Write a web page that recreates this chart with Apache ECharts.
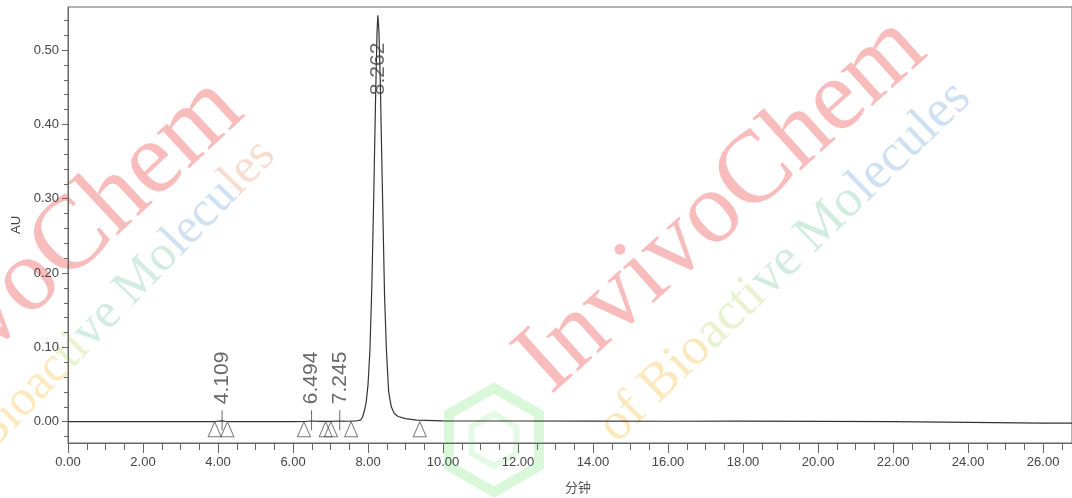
<!DOCTYPE html>
<html>
<head>
<meta charset="utf-8">
<script src="https://cdn.jsdelivr.net/npm/echarts@6/dist/echarts.min.js"></script>
<style>
html,body{margin:0;padding:0;background:#fff;}
#c{width:1072px;height:498px;}
</style>
</head>
<body>
<div id="c"></div>
<script>
// ---- data ----
var times = [0, 1, 2, 3, 3.9, 4.0, 4.109, 4.2, 4.3, 5, 6, 6.3, 6.494, 6.7, 7.0, 7.245, 7.5, 7.7,
  7.80, 7.85, 7.90, 7.95, 8.00, 8.05, 8.10, 8.15, 8.20, 8.24, 8.262, 8.29, 8.33, 8.36, 8.40, 8.44,
  8.49, 8.55, 8.62, 8.70, 8.80, 9.00, 9.30, 10, 12, 14, 16, 18, 20, 22, 24, 26, 26.77];
var au = [0.000, 0.000, 0.000, 0.000, 0.000, 0.0006, 0.0012, 0.0006, 0.000, 0.000, 0.000, 0.0002, 0.0009, 0.0004, 0.0003, 0.0009, 0.0006, 0.0012,
  0.002, 0.006, 0.014, 0.026, 0.050, 0.096, 0.180, 0.298, 0.433, 0.525, 0.547, 0.525, 0.450, 0.370, 0.270, 0.170,
  0.096, 0.040, 0.020, 0.011, 0.007, 0.004, 0.002, 0.0012, 0.0009, 0.0008, 0.0006, 0.0008, 0.0005, 0.000, -0.001, -0.002, -0.002];
var peakTimes = [4.109, 6.494, 7.245, 8.262];
var peakHeights = [0.0012, 0.0009, 0.0009, 0.547];
var peakNames = ['4.109', '6.494', '7.245', '8.262'];
var markerTimes = [3.91, 4.25, 6.29, 6.87, 7.01, 7.55, 9.38];
var xTickValues = [0, 2, 4, 6, 8, 10, 12, 14, 16, 18, 20, 22, 24, 26];
var yTickValues = [0, 0.1, 0.2, 0.3, 0.4, 0.5];
var xMin = 0, xMax = 26.77, yMin = -0.0287, yMax = 0.558;

var xMinor = [];
for (var i = 0; i <= 53; i++) { var v = i * 0.5; if (v % 2 !== 0 && v <= xMax) xMinor.push(v); }
var yMinor = [];
for (var j = -1; j <= 27; j++) { var w = Math.round(j * 2) / 100; if (Math.round(w * 100) % 10 !== 0) yMinor.push(w); }

var lineData = times.map(function (t, k) { return [t, au[k]]; });
var markerData = markerTimes.map(function (t) { return [t, 0]; });
var labelData = peakTimes.map(function (t, k) {
  var big = peakHeights[k] > 0.1;
  return {
    value: [t, big ? peakHeights[k] : 0],
    name: peakNames[k],
    symbol: big ? 'circle' : 'rect',
    symbolSize: big ? 0.1 : [1, 20],
    symbolOffset: big ? [0, 0] : [0, -1.5],
    label: big ? { position: 'bottom', distance: 80 } : { position: 'top', distance: 6 }
  };
});

var font = 'Liberation Sans, Arial, sans-serif';
var serif = 'Liberation Serif, Times New Roman, serif';
var deg = Math.PI / 180;
var gridTop = 7, gridBottom = 55, H = 498;
var plotH = H - gridTop - gridBottom;

function hexagon(cx, cy, r) {
  var pts = [];
  for (var k = 0; k < 6; k++) { var a = (60 * k + 30) * deg; pts.push([cx + r * Math.cos(a), cy + r * Math.sin(a)]); }
  return pts;
}
var wmRich = {
  y: { fill: 'rgba(245,200,95,0.42)' },
  g: { fill: 'rgba(200,225,140,0.42)' },
  t: { fill: 'rgba(150,210,180,0.42)' },
  b: { fill: 'rgba(140,180,225,0.42)' },
  o: { fill: 'rgba(235,175,140,0.42)' }
};
function richStyle(text, size) {
  var r = {};
  for (var k in wmRich) r[k] = { fill: wmRich[k].fill, font: size + 'px ' + serif };
  return { text: text, rich: r, align: 'center', verticalAlign: 'middle', font: size + 'px ' + serif };
}

var chart = echarts.init(document.getElementById('c'), null, { renderer: 'canvas' });
chart.setOption({
  animation: false,
  backgroundColor: '#fff',
  grid: { left: 68, right: 0, top: gridTop, bottom: gridBottom, containLabel: false, outerBoundsMode: 'none',
    show: true, borderColor: '#666', borderWidth: 1, backgroundColor: 'transparent' },
  graphic: [
    { type: 'text', x: 38, y: 272, rotation: 43 * deg, z: 0, silent: true,
      style: { text: 'InvivoChem', font: '104px ' + serif, fill: 'rgba(240,80,80,0.38)', align: 'center', verticalAlign: 'middle' } },
    { type: 'text', x: 722, y: 205, rotation: 42 * deg, z: 0, silent: true,
      style: { text: 'InvivoChem', font: '102px ' + serif, fill: 'rgba(240,80,80,0.38)', align: 'center', verticalAlign: 'middle' } },
    { type: 'text', x: 124, y: 296, rotation: 46 * deg, z: 0, silent: true,
      style: richStyle('{y|Bioac}{g|ti}{t|ve Mo}{b|lecu}{o|les}', 50) },
    { type: 'text', x: 785, y: 262, rotation: 44 * deg, z: 0, silent: true,
      style: richStyle('{y|of Bio}{g|acti}{t|ve Mo}{b|lecules}', 53) },
    { type: 'polygon', z: 0, silent: true, shape: { points: hexagon(494, 440, 52) },
      style: { fill: 'none', stroke: 'rgba(110,225,110,0.26)', lineWidth: 10 } },
    { type: 'polygon', z: 0, silent: true, shape: { points: hexagon(494, 440, 26) },
      style: { fill: 'none', stroke: 'rgba(110,225,110,0.18)', lineWidth: 6 } }
  ],
  xAxis: [
    {
      type: 'value', min: xMin, max: xMax, position: 'bottom',
      name: '分钟', nameLocation: 'middle', nameGap: 38,
      nameTextStyle: { fontFamily: 'Noto Sans CJK SC, sans-serif', fontSize: 13, color: '#555', padding: [0, 0, 0, 16] },
      axisLine: { show: true, onZero: false, lineStyle: { color: '#666', width: 1 } },
      axisTick: { show: true, customValues: xTickValues, length: 10, lineStyle: { color: '#666' } },
      axisLabel: { show: true, customValues: xTickValues, margin: 13, fontFamily: font, fontSize: 13, color: '#444',
        formatter: function (v) { return v.toFixed(2); } },
      splitLine: { show: false }
    },
    {
      type: 'value', min: xMin, max: xMax, position: 'top', offset: -plotH,
      axisLine: { show: false, onZero: false }, axisLabel: { show: false }, splitLine: { show: false },
      axisTick: { show: true, inside: true, customValues: xMinor, length: 7, lineStyle: { color: '#666' } }
    }
  ],
  yAxis: [
    {
      type: 'value', min: yMin, max: yMax, position: 'left',
      name: 'AU', nameLocation: 'middle', nameGap: 45,
      nameTextStyle: { fontFamily: font, fontSize: 13, color: '#444' },
      axisLine: { show: true, onZero: false, lineStyle: { color: '#666', width: 1 } },
      axisTick: { show: true, customValues: yTickValues, length: 6, lineStyle: { color: '#666' } },
      axisLabel: { show: true, customValues: yTickValues, margin: 9, fontFamily: font, fontSize: 13, color: '#444',
        formatter: function (v) { return v.toFixed(2); } },
      splitLine: { show: false }
    },
    {
      type: 'value', min: yMin, max: yMax, position: 'left',
      axisLine: { show: false, onZero: true, onZeroAxisIndex: 0 }, axisLabel: { show: false }, splitLine: { show: false },
      axisTick: { show: true, customValues: yMinor, length: 4, lineStyle: { color: '#666' } }
    }
  ],
  series: [
    {
      type: 'line', data: lineData, xAxisIndex: 0, yAxisIndex: 0, z: 3,
      showSymbol: false, symbol: 'none', smooth: false,
      lineStyle: { color: '#333', width: 1.2 }
    },
    {
      type: 'scatter', data: markerData, xAxisIndex: 0, yAxisIndex: 0, z: 4,
      symbol: 'triangle', symbolSize: [13, 15], symbolOffset: [0, 7.5],
      itemStyle: { color: 'rgba(0,0,0,0)', borderColor: '#555', borderWidth: 1 }
    },
    {
      type: 'scatter', data: labelData, xAxisIndex: 0, yAxisIndex: 0, z: 5,
      itemStyle: { color: '#444' },
      label: {
        show: true, rotate: 90, align: 'left', verticalAlign: 'middle',
        fontFamily: font, fontSize: 21, color: '#444',
        formatter: function (p) { return p.name; }
      }
    }
  ]
});
</script>
</body>
</html>
